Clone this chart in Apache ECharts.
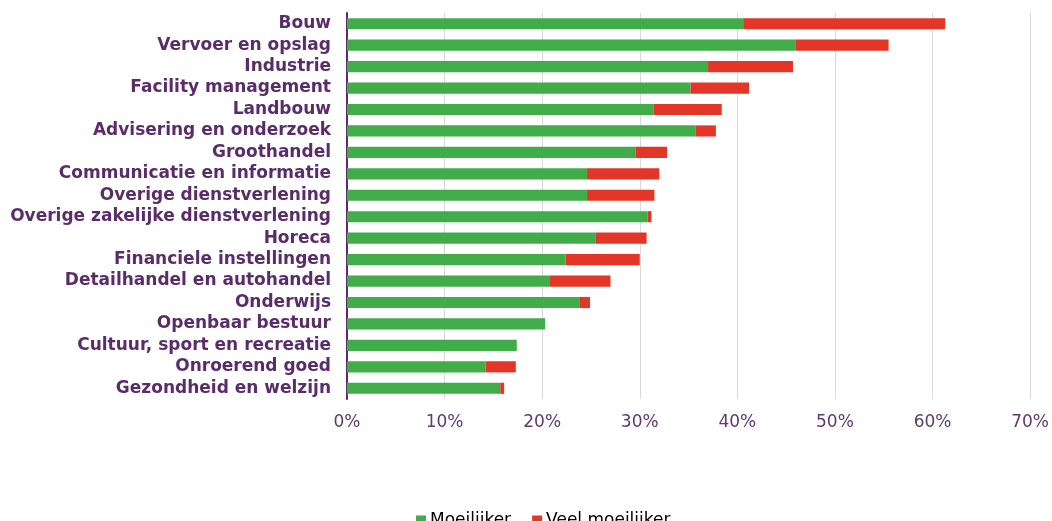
<!DOCTYPE html>
<html>
<head>
<meta charset="utf-8">
<script src="https://cdn.jsdelivr.net/npm/echarts@6/dist/echarts.min.js"></script>
<style>
html,body{margin:0;padding:0;background:#fff;}
#chart{width:1052px;height:521px;}
</style>
</head>
<body>
<div id="chart"></div>
<script>
var categories = [
  "Bouw",
  "Vervoer en opslag",
  "Industrie",
  "Facility management",
  "Landbouw",
  "Advisering en onderzoek",
  "Groothandel",
  "Communicatie en informatie",
  "Overige dienstverlening",
  "Overige zakelijke dienstverlening",
  "Horeca",
  "Financiele instellingen",
  "Detailhandel en autohandel",
  "Onderwijs",
  "Openbaar bestuur",
  "Cultuur, sport en recreatie",
  "Onroerend goed",
  "Gezondheid en welzijn"
];
var moeilijker = [40.6, 46.0, 37.0, 35.2, 31.4, 35.7, 29.6, 24.6, 24.6, 30.8, 25.5, 22.4, 20.8, 23.8, 20.3, 17.4, 14.2, 15.7];
var veelMoeilijker = [20.7, 9.5, 8.7, 6.0, 7.0, 2.1, 3.2, 7.4, 6.9, 0.4, 5.2, 7.6, 6.2, 1.1, 0, 0, 3.1, 0.4];
var xTicks = [0, 10, 20, 30, 40, 50, 60, 70];

var purple = '#5a2d6a';
var font = "DejaVu Sans";
var chart = echarts.init(document.getElementById('chart'));
chart.setOption({
  animation: false,
  grid: {left: 347, right: 21, top: 13, bottom: 122},
  legend: {
    data: ['Moeilijker', 'Veel moeilijker'],
    top: 507,
    left: 411,
    itemWidth: 10,
    itemHeight: 10,
    itemGap: 21,
    icon: 'rect',
    textStyle: {fontFamily: font, fontSize: 17, color: '#000', padding: [0,0,0,-1]}
  },
  xAxis: {
    type: 'value',
    min: xTicks[0],
    max: xTicks[xTicks.length - 1],
    interval: 10,
    axisLine: {show: false},
    axisTick: {show: false},
    splitLine: {lineStyle: {color: '#d9d9d9', width: 1}},
    axisLabel: {
      formatter: function (v) { return v + '%'; },
      fontFamily: font,
      fontSize: 17,
      color: '#5e3a6e',
      margin: 15
    }
  },
  yAxis: {
    type: 'category',
    data: categories,
    inverse: true,
    axisLine: {lineStyle: {color: purple, width: 2}},
    axisTick: {show: false},
    axisLabel: {
      interval: 0,
      fontFamily: font,
      fontWeight: 'bold',
      fontSize: 17,
      color: purple,
      margin: 16
    }
  },
  series: [
    {
      name: 'Moeilijker',
      type: 'bar',
      stack: 'total',
      data: moeilijker,
      barWidth: '52%',
      itemStyle: {color: '#41ac4a'}
    },
    {
      name: 'Veel moeilijker',
      type: 'bar',
      stack: 'total',
      data: veelMoeilijker,
      barWidth: '52%',
      itemStyle: {color: '#e33629'}
    }
  ]
});
</script>
</body>
</html>
